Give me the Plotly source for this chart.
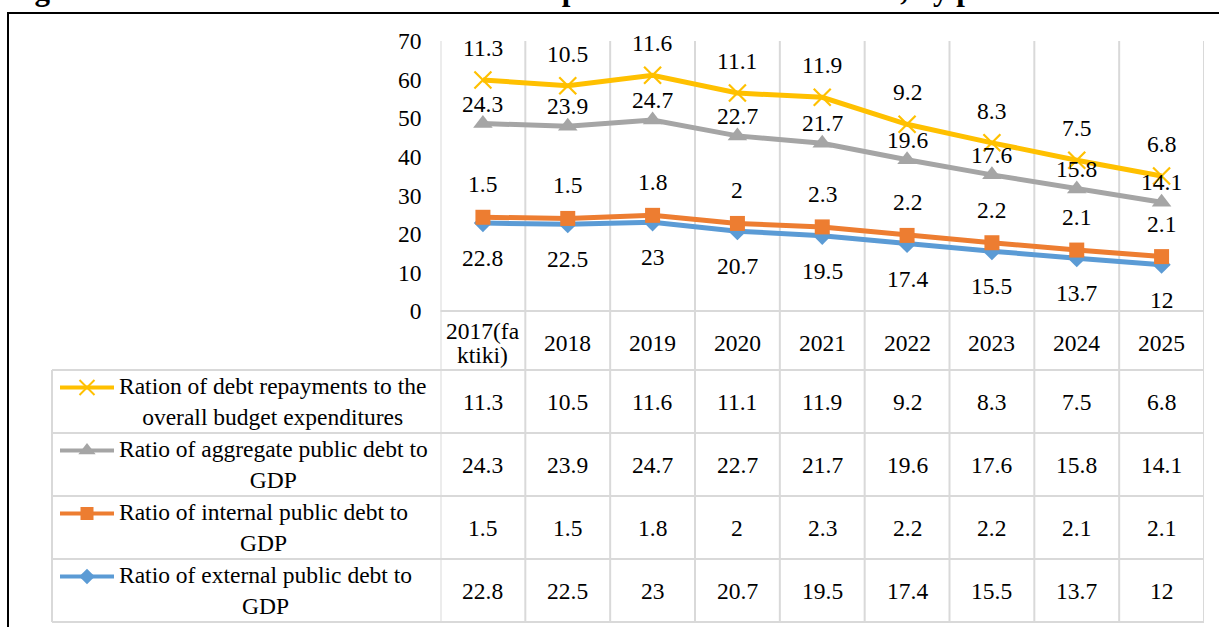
import numpy as np
import plotly.graph_objects as go

W, H = 1219, 627

# ---------------- data ----------------
categories = ["2017(fa<br>ktiki)", "2018", "2019", "2020", "2021", "2022", "2023", "2024", "2025"]
external_debt = [22.8, 22.5, 23, 20.7, 19.5, 17.4, 15.5, 13.7, 12]
internal_debt = [1.5, 1.5, 1.8, 2, 2.3, 2.2, 2.2, 2.1, 2.1]
aggregate_debt = [24.3, 23.9, 24.7, 22.7, 21.7, 19.6, 17.6, 15.8, 14.1]
debt_repayments = [11.3, 10.5, 11.6, 11.1, 11.9, 9.2, 8.3, 7.5, 6.8]
y_ticks = [0, 10, 20, 30, 40, 50, 60, 70]

name_repay = "Ration of debt repayments to the<br>overall budget expenditures"
name_agg = "Ratio of aggregate public debt to<br>GDP"
name_int = "Ratio of internal public debt to<br>GDP"
name_ext = "Ratio of external public debt to<br>GDP"
title_text = "Figure 3. Main indicators of the state and public debt of Uzbekistan, by percent"

# ---------------- styling ----------------
FONT = "Liberation Serif"
FS = 23.5
TXT = "#000000"
GRID = "#D9D9D9"

# stacking order bottom -> top
series = [
    dict(name=name_ext, values=external_debt, color="#5B9BD5", symbol="diamond", size=14, lab=-35),
    dict(name=name_int, values=internal_debt, color="#ED7D31", symbol="square", size=15, lab=33),
    dict(name=name_agg, values=aggregate_debt, color="#A5A5A5", symbol="triangle-up", size=17, lab=20),
    dict(name=name_repay, values=debt_repayments, color="#FFC000", symbol="x-thin", size=17, lab=32),
]
cum = np.cumsum(np.array([s["values"] for s in series], dtype=float), axis=0)

# pixel layout
PL, PR = 440.5, 1204.0
PT, PB = 41.0, 311.0
TABLE_TOP, ROW_H = 370.0, 63.0
TABLE_LEFT = 52.0
LINE_H = 24.0


def px(x):
    return x / W


def py(y):
    return 1 - y / H


n = len(categories)
xs = list(range(n))

fig = go.Figure()

for s, c in zip(series, cum):
    mk = dict(symbol=s["symbol"], size=s["size"], color=s["color"])
    if s["symbol"] == "x-thin":
        mk["line"] = dict(color=s["color"], width=2.2)
    fig.add_trace(go.Scatter(
        x=xs, y=c, mode="lines+markers", name=s["name"],
        line=dict(color=s["color"], width=5), marker=mk,
        showlegend=False, hoverinfo="skip", cliponaxis=False,
    ))

annotations = []
# data labels
for s, c in zip(series, cum):
    for i, (v, yc) in enumerate(zip(s["values"], c)):
        annotations.append(dict(
            x=i, y=yc, xref="x", yref="y", text=f"{v:g}", showarrow=False,
            yshift=s["lab"], font=dict(family=FONT, size=FS, color=TXT),
            xanchor="center", yanchor="middle"))


def add_lines(text, xref, x, y_center, xanchor="center"):
    lines = text.split("<br>")
    m = len(lines)
    for k, ln in enumerate(lines):
        yy = y_center + (k - (m - 1) / 2) * LINE_H
        annotations.append(dict(
            x=x, y=py(yy), xref=xref, yref="paper", text=ln, showarrow=False,
            font=dict(family=FONT, size=FS, color=TXT),
            xanchor=xanchor, yanchor="middle"))


# category row
for i, cat in enumerate(categories):
    add_lines(cat, "x", i, (PB + TABLE_TOP) / 2 + 2)

# table rows (top: last stacked series)
table_series = list(reversed(series))
for r, s in enumerate(table_series):
    yc = TABLE_TOP + ROW_H * (r + 0.5)
    # legend name: block left-aligned after the key, lines centred in the block
    annotations.append(dict(
        x=px(117), y=py(yc), xref="paper", yref="paper", text=s["name"], showarrow=False,
        font=dict(family=FONT, size=FS, color=TXT), xanchor="left", yanchor="middle",
        align="center"))
    for i, v in enumerate(s["values"]):
        add_lines(f"{v:g}", "x", i, yc)
    # legend key
    ky = yc - 14
    mk = dict(symbol=s["symbol"], size=s["size"] - 2, color=s["color"])
    if s["symbol"] == "x-thin":
        mk["line"] = dict(color=s["color"], width=2)
    fig.add_trace(go.Scatter(
        x=[60, 114], y=[ky, ky], xaxis="x2", yaxis="y2", mode="lines",
        line=dict(color=s["color"], width=4), showlegend=False, hoverinfo="skip"))
    fig.add_trace(go.Scatter(
        x=[87], y=[ky], xaxis="x2", yaxis="y2", mode="markers",
        marker=mk, showlegend=False, hoverinfo="skip"))

# title (cropped at top of page, as in the reference: only descenders show)
annotations.append(dict(
    x=px(5), y=1 - 9 / H, xref="paper", yref="paper", text=f"<b>{title_text}</b>",
    showarrow=False, xanchor="left", yanchor="bottom",
    font=dict(family=FONT, size=31, color=TXT)))

shapes = []
# vertical grid lines through chart and table
for k in range(n + 1):
    shapes.append(dict(type="line", xref="x", yref="paper", x0=k - 0.5, x1=k - 0.5,
                       y0=py(TABLE_TOP + ROW_H * 4), y1=py(PT),
                       line=dict(color=GRID, width=2), layer="below"))
# category axis line
shapes.append(dict(type="line", xref="paper", yref="paper", x0=px(PL), x1=px(PR),
                   y0=py(PB), y1=py(PB), line=dict(color=GRID, width=2), layer="below"))
# table horizontal lines
for r in range(5):
    yy = TABLE_TOP + ROW_H * r
    shapes.append(dict(type="line", xref="paper", yref="paper", x0=px(TABLE_LEFT), x1=px(PR),
                       y0=py(yy), y1=py(yy), line=dict(color=GRID, width=2), layer="below"))
shapes.append(dict(type="line", xref="paper", yref="paper", x0=px(TABLE_LEFT), x1=px(TABLE_LEFT),
                   y0=py(TABLE_TOP), y1=py(TABLE_TOP + ROW_H * 4),
                   line=dict(color=GRID, width=2), layer="below"))
# outer frame (black)
shapes.append(dict(type="line", xref="paper", yref="paper", x0=px(8), x1=px(8),
                   y0=py(13), y1=py(H + 5), line=dict(color="#000000", width=2)))
shapes.append(dict(type="line", xref="paper", yref="paper", x0=px(7), x1=px(W + 5),
                   y0=py(13), y1=py(13), line=dict(color="#000000", width=2)))

fig.update_layout(
    width=W, height=H, autosize=False,
    margin=dict(l=0, r=0, t=0, b=0, pad=0, autoexpand=False),
    paper_bgcolor="white", plot_bgcolor="rgba(0,0,0,0)",
    xaxis=dict(domain=[px(PL), px(PR)], range=[-0.5, n - 0.5], showticklabels=False,
               showgrid=False, zeroline=False, showline=False, fixedrange=True,
               automargin=False),
    yaxis=dict(domain=[py(PB), py(PT)], range=[0, 70], tickvals=y_ticks,
               showgrid=False, zeroline=False, showline=False, ticks="",
               ticklabelstandoff=18, automargin=False,
               tickfont=dict(family=FONT, size=FS, color=TXT), fixedrange=True),
    xaxis2=dict(domain=[0, 1], range=[0, W], visible=False, fixedrange=True,
                automargin=False, anchor="y2"),
    yaxis2=dict(domain=[0, 1], range=[H, 0], visible=False, fixedrange=True,
                anchor="x2", automargin=False),
    annotations=annotations,
    shapes=shapes,
)

fig.write_html(
    "out.html",
    config={"displayModeBar": False, "staticPlot": True, "responsive": False},
    post_script="document.body.style.margin='0';document.body.style.overflow='hidden';",
)
